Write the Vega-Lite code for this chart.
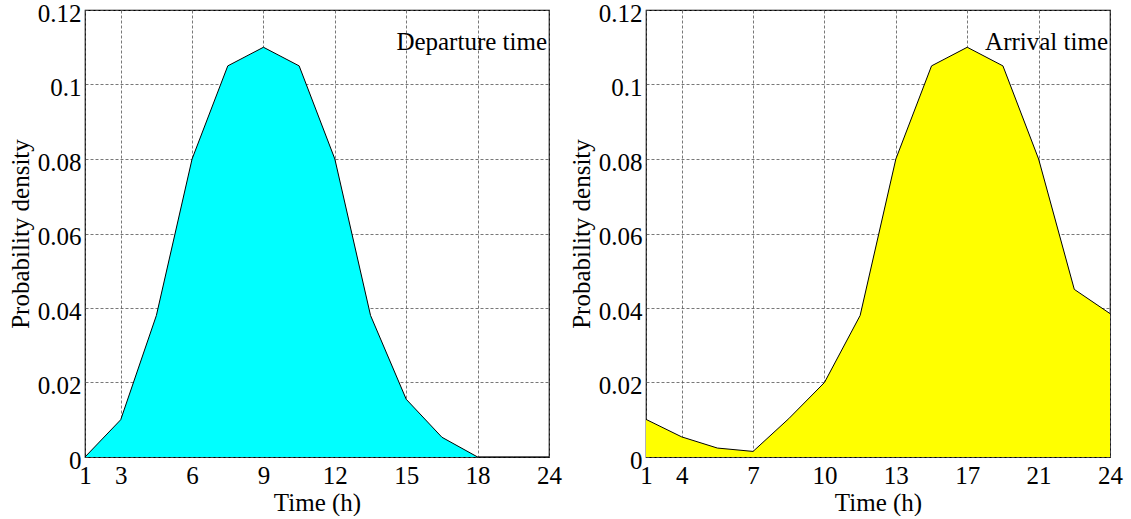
{
  "$schema": "https://vega.github.io/schema/vega-lite/v6.json",
  "background": "white",
  "padding": {"left": 7, "top": 0, "right": 5, "bottom": 0},
  "autosize": {"type": "pad"},
  "spacing": 5,
  "config": {
    "font": "Liberation Serif",
    "view": {"stroke": "black", "strokeWidth": 1.2},
    "axis": {
      "labelFont": "Liberation Serif",
      "titleFont": "Liberation Serif",
      "labelFontSize": 25,
      "titleFontSize": 25,
      "titleFontWeight": "normal",
      "labelColor": "black",
      "titleColor": "black",
      "domain": false,
      "ticks": false,
      "gridColor": "#555",
      "gridDash": [3, 2],
      "gridWidth": 0.8,
      "gridOpacity": 1
    }
  },
  "datasets": {
    "dep": [
      {"idx": 0, "density": 0.0},
      {"idx": 1, "density": 0.010},
      {"idx": 2, "density": 0.038},
      {"idx": 3, "density": 0.080},
      {"idx": 4, "density": 0.105},
      {"idx": 5, "density": 0.110},
      {"idx": 6, "density": 0.105},
      {"idx": 7, "density": 0.080},
      {"idx": 8, "density": 0.038},
      {"idx": 9, "density": 0.0155},
      {"idx": 10, "density": 0.0053},
      {"idx": 11, "density": 0.0},
      {"idx": 12, "density": 0.0},
      {"idx": 13, "density": 0.0}
    ],
    "arr": [
      {"idx": 0, "density": 0.0101},
      {"idx": 1, "density": 0.0054},
      {"idx": 2, "density": 0.0024},
      {"idx": 3, "density": 0.0015},
      {"idx": 4, "density": 0.0103},
      {"idx": 5, "density": 0.020},
      {"idx": 6, "density": 0.038},
      {"idx": 7, "density": 0.080},
      {"idx": 8, "density": 0.105},
      {"idx": 9, "density": 0.110},
      {"idx": 10, "density": 0.105},
      {"idx": 11, "density": 0.080},
      {"idx": 12, "density": 0.045},
      {"idx": 13, "density": 0.0385}
    ],
    "labDep": [{"idx": 13, "density": 0.1113, "label": "Departure time"}],
    "labArr": [{"idx": 13, "density": 0.1113, "label": "Arrival time"}]
  },
  "hconcat": [
    {
      "width": 464,
      "height": 447,
      "layer": [
        {
          "data": {"name": "dep"},
          "mark": {"type": "area", "color": "#00FFFF", "opacity": 1, "line": {"color": "black", "strokeWidth": 1}},
          "encoding": {
            "x": {
              "field": "idx", "type": "quantitative",
              "scale": {"domain": [0, 13], "nice": false, "zero": false},
              "axis": {
                "title": "Time (h)",
                "values": [0, 1, 3, 5, 7, 9, 11, 13],
                "labelExpr": "({0:'1',1:'3',3:'6',5:'9',7:'12',9:'15',11:'18',13:'24'})[datum.value]",
                "labelPadding": 6,
                "titlePadding": 2,
                "labelFlush": false
              }
            },
            "y": {
              "field": "density", "type": "quantitative",
              "scale": {"domain": [0, 0.12], "nice": false},
              "axis": {
                "title": "Probability density",
                "values": [0, 0.02, 0.04, 0.06, 0.08, 0.1, 0.12],
                "format": "~g",
                "labelPadding": 4,
                "labelOffset": 3,
                "titlePadding": 4
              }
            }
          }
        },
        {
          "data": {"name": "labDep"},
          "mark": {"type": "text", "align": "right", "baseline": "middle", "dx": -2, "fontSize": 25, "font": "Liberation Serif", "color": "black"},
          "encoding": {
            "x": {"field": "idx", "type": "quantitative"},
            "y": {"field": "density", "type": "quantitative"},
            "text": {"field": "label"}
          }
        }
      ]
    },
    {
      "width": 464,
      "height": 447,
      "layer": [
        {
          "data": {"name": "arr"},
          "mark": {"type": "area", "color": "#FFFF00", "opacity": 1, "line": {"color": "black", "strokeWidth": 1}},
          "encoding": {
            "x": {
              "field": "idx", "type": "quantitative",
              "scale": {"domain": [0, 13], "nice": false, "zero": false},
              "axis": {
                "title": "Time (h)",
                "values": [0, 1, 3, 5, 7, 9, 11, 13],
                "labelExpr": "({0:'1',1:'4',3:'7',5:'10',7:'13',9:'17',11:'21',13:'24'})[datum.value]",
                "labelPadding": 6,
                "titlePadding": 2,
                "labelFlush": false
              }
            },
            "y": {
              "field": "density", "type": "quantitative",
              "scale": {"domain": [0, 0.12], "nice": false},
              "axis": {
                "title": "Probability density",
                "values": [0, 0.02, 0.04, 0.06, 0.08, 0.1, 0.12],
                "format": "~g",
                "labelPadding": 4,
                "labelOffset": 3,
                "titlePadding": 4
              }
            }
          }
        },
        {
          "data": {"name": "labArr"},
          "mark": {"type": "text", "align": "right", "baseline": "middle", "dx": -2, "fontSize": 25, "font": "Liberation Serif", "color": "black"},
          "encoding": {
            "x": {"field": "idx", "type": "quantitative"},
            "y": {"field": "density", "type": "quantitative"},
            "text": {"field": "label"}
          }
        }
      ]
    }
  ]
}
